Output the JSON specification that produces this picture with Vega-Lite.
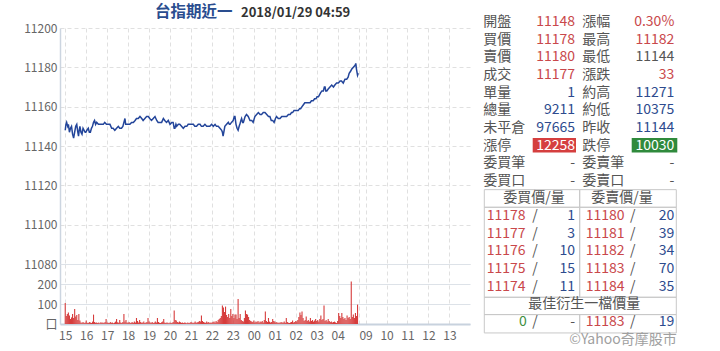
{
  "$schema": "https://vega.github.io/schema/vega-lite/v6.json",
  "background": "white",
  "padding": {"left": 20, "top": 4, "right": 0, "bottom": 0},
  "spacing": 10,
  "config": {"view": {"stroke": null}, "font": "Noto Sans CJK TC"},
  "datasets": {
    "price": [
      {"m":0,"p":11148},{"m":2,"p":11151},{"m":4,"p":11152},{"m":7,"p":11150},{"m":9,"p":11151},{"m":12,"p":11147},{"m":15,"p":11149},{"m":18,"p":11150},{"m":21,"p":11146},{"m":24,"p":11144},{"m":27,"p":11147},{"m":30,"p":11150},{"m":33,"p":11151},{"m":36,"p":11147},{"m":38,"p":11145},{"m":40,"p":11148},{"m":42,"p":11150},{"m":45,"p":11147},{"m":48,"p":11146},{"m":51,"p":11149},{"m":54,"p":11148},{"m":57,"p":11147},{"m":59,"p":11147},{"m":62,"p":11148},{"m":66,"p":11149},{"m":69,"p":11147},{"m":72,"p":11147},{"m":75,"p":11149},{"m":78,"p":11150},{"m":81,"p":11152},{"m":84,"p":11153},{"m":87,"p":11151},{"m":90,"p":11152},{"m":95,"p":11151},{"m":99,"p":11151},{"m":104,"p":11151},{"m":109,"p":11151},{"m":113,"p":11152},{"m":118,"p":11151},{"m":123,"p":11151},{"m":128,"p":11151},{"m":133,"p":11149},{"m":137,"p":11149},{"m":142,"p":11148},{"m":147,"p":11149},{"m":152,"p":11150},{"m":156,"p":11149},{"m":161,"p":11149},{"m":165,"p":11150},{"m":168,"p":11152},{"m":171,"p":11154},{"m":173,"p":11151},{"m":176,"p":11151},{"m":180,"p":11151},{"m":185,"p":11151},{"m":190,"p":11152},{"m":195,"p":11152},{"m":200,"p":11153},{"m":204,"p":11154},{"m":209,"p":11154},{"m":214,"p":11155},{"m":219,"p":11154},{"m":223,"p":11153},{"m":228,"p":11154},{"m":233,"p":11155},{"m":238,"p":11155},{"m":242,"p":11154},{"m":247,"p":11153},{"m":252,"p":11154},{"m":257,"p":11155},{"m":262,"p":11153},{"m":266,"p":11152},{"m":271,"p":11152},{"m":276,"p":11152},{"m":281,"p":11154},{"m":285,"p":11153},{"m":290,"p":11152},{"m":295,"p":11153},{"m":300,"p":11151},{"m":305,"p":11152},{"m":309,"p":11152},{"m":312,"p":11149},{"m":314,"p":11149},{"m":317,"p":11151},{"m":319,"p":11150},{"m":324,"p":11151},{"m":328,"p":11151},{"m":333,"p":11150},{"m":338,"p":11149},{"m":343,"p":11150},{"m":348,"p":11150},{"m":352,"p":11151},{"m":357,"p":11151},{"m":362,"p":11151},{"m":367,"p":11151},{"m":371,"p":11150},{"m":376,"p":11150},{"m":381,"p":11151},{"m":386,"p":11151},{"m":390,"p":11150},{"m":395,"p":11150},{"m":400,"p":11151},{"m":405,"p":11150},{"m":410,"p":11150},{"m":414,"p":11150},{"m":419,"p":11151},{"m":424,"p":11150},{"m":429,"p":11151},{"m":433,"p":11150},{"m":438,"p":11150},{"m":443,"p":11149},{"m":448,"p":11148},{"m":450,"p":11147},{"m":452,"p":11145},{"m":455,"p":11148},{"m":457,"p":11150},{"m":462,"p":11151},{"m":467,"p":11152},{"m":470,"p":11151},{"m":472,"p":11151},{"m":476,"p":11152},{"m":481,"p":11153},{"m":484,"p":11155},{"m":486,"p":11155},{"m":489,"p":11151},{"m":492,"p":11149},{"m":495,"p":11148},{"m":498,"p":11150},{"m":500,"p":11151},{"m":503,"p":11153},{"m":505,"p":11154},{"m":508,"p":11152},{"m":510,"p":11152},{"m":515,"p":11155},{"m":519,"p":11156},{"m":524,"p":11155},{"m":529,"p":11153},{"m":534,"p":11153},{"m":538,"p":11152},{"m":543,"p":11155},{"m":548,"p":11156},{"m":553,"p":11157},{"m":558,"p":11156},{"m":562,"p":11156},{"m":567,"p":11157},{"m":572,"p":11157},{"m":577,"p":11156},{"m":582,"p":11155},{"m":586,"p":11155},{"m":590,"p":11153},{"m":594,"p":11153},{"m":598,"p":11152},{"m":602,"p":11154},{"m":605,"p":11155},{"m":610,"p":11154},{"m":615,"p":11154},{"m":620,"p":11155},{"m":624,"p":11155},{"m":629,"p":11155},{"m":634,"p":11155},{"m":639,"p":11156},{"m":644,"p":11156},{"m":648,"p":11157},{"m":651,"p":11157},{"m":655,"p":11158},{"m":658,"p":11158},{"m":663,"p":11158},{"m":667,"p":11158},{"m":671,"p":11159},{"m":674,"p":11159},{"m":678,"p":11160},{"m":682,"p":11161},{"m":686,"p":11162},{"m":691,"p":11162},{"m":696,"p":11162},{"m":701,"p":11162},{"m":705,"p":11163},{"m":710,"p":11163},{"m":714,"p":11164},{"m":718,"p":11164},{"m":721,"p":11165},{"m":725,"p":11165},{"m":728,"p":11166},{"m":731,"p":11167},{"m":735,"p":11168},{"m":739,"p":11168},{"m":742,"p":11170},{"m":744,"p":11170},{"m":746,"p":11168},{"m":749,"p":11168},{"m":753,"p":11169},{"m":758,"p":11170},{"m":763,"p":11171},{"m":768,"p":11170},{"m":772,"p":11171},{"m":777,"p":11172},{"m":782,"p":11172},{"m":787,"p":11173},{"m":791,"p":11173},{"m":796,"p":11172},{"m":801,"p":11174},{"m":806,"p":11174},{"m":810,"p":11175},{"m":813,"p":11177},{"m":817,"p":11178},{"m":820,"p":11179},{"m":825,"p":11180},{"m":830,"p":11181},{"m":832,"p":11182},{"m":834,"p":11179},{"m":837,"p":11176},{"m":839,"p":11177}
    ],
    "vol": [
      {"m":0,"v":105},{"m":3,"v":40},{"m":6,"v":50},{"m":9,"v":58},{"m":12,"v":42},{"m":15,"v":25},{"m":18,"v":33},{"m":21,"v":50},{"m":24,"v":30},{"m":27,"v":75},{"m":30,"v":37},{"m":33,"v":45},{"m":36,"v":20},{"m":39,"v":50},{"m":42,"v":17},{"m":45,"v":8},{"m":48,"v":6},{"m":51,"v":10},{"m":54,"v":5},{"m":57,"v":8},{"m":60,"v":17},{"m":63,"v":6},{"m":66,"v":5},{"m":69,"v":10},{"m":72,"v":7},{"m":75,"v":5},{"m":78,"v":12},{"m":81,"v":47},{"m":84,"v":10},{"m":87,"v":6},{"m":90,"v":8},{"m":93,"v":5},{"m":96,"v":7},{"m":99,"v":4},{"m":102,"v":9},{"m":105,"v":6},{"m":108,"v":8},{"m":111,"v":5},{"m":114,"v":10},{"m":117,"v":25},{"m":120,"v":8},{"m":123,"v":6},{"m":126,"v":5},{"m":129,"v":10},{"m":132,"v":6},{"m":135,"v":8},{"m":138,"v":4},{"m":141,"v":7},{"m":144,"v":12},{"m":147,"v":25},{"m":150,"v":9},{"m":153,"v":6},{"m":156,"v":20},{"m":159,"v":8},{"m":162,"v":5},{"m":165,"v":10},{"m":168,"v":50},{"m":171,"v":12},{"m":174,"v":20},{"m":177,"v":8},{"m":180,"v":6},{"m":183,"v":10},{"m":186,"v":5},{"m":189,"v":7},{"m":192,"v":9},{"m":195,"v":6},{"m":198,"v":12},{"m":201,"v":8},{"m":204,"v":30},{"m":207,"v":15},{"m":210,"v":8},{"m":213,"v":20},{"m":216,"v":10},{"m":219,"v":6},{"m":222,"v":8},{"m":225,"v":12},{"m":228,"v":5},{"m":231,"v":7},{"m":234,"v":10},{"m":237,"v":30},{"m":240,"v":12},{"m":243,"v":8},{"m":246,"v":6},{"m":249,"v":10},{"m":252,"v":5},{"m":255,"v":8},{"m":258,"v":12},{"m":261,"v":7},{"m":264,"v":30},{"m":267,"v":10},{"m":270,"v":6},{"m":273,"v":5},{"m":276,"v":9},{"m":279,"v":12},{"m":282,"v":25},{"m":285,"v":8},{"m":288,"v":5},{"m":291,"v":7},{"m":294,"v":6},{"m":297,"v":4},{"m":300,"v":8},{"m":303,"v":5},{"m":306,"v":6},{"m":309,"v":10},{"m":312,"v":67},{"m":315,"v":20},{"m":318,"v":17},{"m":321,"v":10},{"m":324,"v":8},{"m":327,"v":12},{"m":330,"v":9},{"m":333,"v":6},{"m":336,"v":8},{"m":339,"v":5},{"m":342,"v":7},{"m":345,"v":6},{"m":348,"v":4},{"m":351,"v":8},{"m":354,"v":5},{"m":357,"v":6},{"m":360,"v":10},{"m":363,"v":7},{"m":366,"v":5},{"m":369,"v":8},{"m":372,"v":12},{"m":375,"v":6},{"m":378,"v":9},{"m":381,"v":10},{"m":384,"v":15},{"m":387,"v":12},{"m":390,"v":42},{"m":393,"v":15},{"m":396,"v":10},{"m":399,"v":8},{"m":402,"v":6},{"m":405,"v":12},{"m":408,"v":7},{"m":411,"v":10},{"m":414,"v":5},{"m":417,"v":8},{"m":420,"v":6},{"m":423,"v":10},{"m":426,"v":12},{"m":429,"v":8},{"m":432,"v":15},{"m":435,"v":10},{"m":438,"v":20},{"m":441,"v":25},{"m":444,"v":30},{"m":447,"v":40},{"m":450,"v":92},{"m":453,"v":83},{"m":456,"v":60},{"m":459,"v":87},{"m":462,"v":45},{"m":465,"v":35},{"m":468,"v":50},{"m":471,"v":30},{"m":474,"v":75},{"m":477,"v":40},{"m":480,"v":50},{"m":483,"v":30},{"m":486,"v":47},{"m":489,"v":47},{"m":492,"v":25},{"m":495,"v":125},{"m":498,"v":30},{"m":501,"v":50},{"m":504,"v":20},{"m":507,"v":15},{"m":510,"v":12},{"m":513,"v":30},{"m":516,"v":67},{"m":519,"v":50},{"m":522,"v":47},{"m":525,"v":35},{"m":528,"v":20},{"m":531,"v":15},{"m":534,"v":12},{"m":537,"v":10},{"m":540,"v":17},{"m":543,"v":8},{"m":546,"v":12},{"m":549,"v":10},{"m":552,"v":15},{"m":555,"v":8},{"m":558,"v":12},{"m":561,"v":10},{"m":564,"v":15},{"m":567,"v":8},{"m":570,"v":20},{"m":573,"v":62},{"m":576,"v":15},{"m":579,"v":10},{"m":582,"v":30},{"m":585,"v":12},{"m":588,"v":8},{"m":591,"v":10},{"m":594,"v":25},{"m":597,"v":15},{"m":600,"v":12},{"m":603,"v":8},{"m":606,"v":10},{"m":609,"v":5},{"m":612,"v":8},{"m":615,"v":6},{"m":618,"v":10},{"m":621,"v":7},{"m":624,"v":8},{"m":627,"v":12},{"m":630,"v":6},{"m":633,"v":30},{"m":636,"v":10},{"m":639,"v":6},{"m":642,"v":5},{"m":645,"v":8},{"m":648,"v":10},{"m":651,"v":17},{"m":654,"v":8},{"m":657,"v":10},{"m":660,"v":15},{"m":663,"v":12},{"m":666,"v":20},{"m":669,"v":35},{"m":672,"v":58},{"m":675,"v":45},{"m":678,"v":62},{"m":681,"v":30},{"m":684,"v":15},{"m":687,"v":20},{"m":690,"v":37},{"m":693,"v":15},{"m":696,"v":20},{"m":699,"v":12},{"m":702,"v":30},{"m":705,"v":15},{"m":708,"v":20},{"m":711,"v":12},{"m":714,"v":18},{"m":717,"v":25},{"m":720,"v":15},{"m":723,"v":20},{"m":726,"v":12},{"m":729,"v":25},{"m":732,"v":42},{"m":735,"v":20},{"m":738,"v":25},{"m":741,"v":92},{"m":744,"v":15},{"m":747,"v":20},{"m":750,"v":12},{"m":753,"v":25},{"m":756,"v":15},{"m":759,"v":10},{"m":762,"v":12},{"m":765,"v":8},{"m":768,"v":10},{"m":771,"v":12},{"m":774,"v":8},{"m":777,"v":5},{"m":780,"v":15},{"m":783,"v":55},{"m":786,"v":40},{"m":789,"v":30},{"m":792,"v":55},{"m":795,"v":35},{"m":798,"v":25},{"m":801,"v":30},{"m":804,"v":20},{"m":807,"v":42},{"m":810,"v":30},{"m":813,"v":35},{"m":816,"v":25},{"m":819,"v":212},{"m":822,"v":35},{"m":825,"v":47},{"m":828,"v":30},{"m":831,"v":55},{"m":834,"v":40},{"m":837,"v":97}
    ],
    "book": [
      {"r":0,"c":0,"t":"開盤","k":"label"},{"r":0,"c":7,"t":"11148","k":"up"},{"r":0,"c":10,"t":"漲幅","k":"label"},{"r":0,"c":16,"t":"0.30%","k":"up"},
      {"r":1,"c":0,"t":"買價","k":"label"},{"r":1,"c":7,"t":"11178","k":"up"},{"r":1,"c":10,"t":"最高","k":"label"},{"r":1,"c":16,"t":"11182","k":"up"},
      {"r":2,"c":0,"t":"賣價","k":"label"},{"r":2,"c":7,"t":"11180","k":"up"},{"r":2,"c":10,"t":"最低","k":"label"},{"r":2,"c":16,"t":"11144","k":"flat"},
      {"r":3,"c":0,"t":"成交","k":"label"},{"r":3,"c":7,"t":"11177","k":"up"},{"r":3,"c":10,"t":"漲跌","k":"label"},{"r":3,"c":16,"t":"33","k":"up"},
      {"r":4,"c":0,"t":"單量","k":"label"},{"r":4,"c":7,"t":"1","k":"vol"},{"r":4,"c":10,"t":"約高","k":"label"},{"r":4,"c":16,"t":"11271","k":"vol"},
      {"r":5,"c":0,"t":"總量","k":"label"},{"r":5,"c":7,"t":"9211","k":"vol"},{"r":5,"c":10,"t":"約低","k":"label"},{"r":5,"c":16,"t":"10375","k":"vol"},
      {"r":6,"c":0,"t":"未平倉","k":"label"},{"r":6,"c":7,"t":"97665","k":"vol"},{"r":6,"c":10,"t":"昨收","k":"label"},{"r":6,"c":16,"t":"11144","k":"vol"},
      {"r":7,"c":0,"t":"漲停","k":"label"},{"r":7,"c":7,"t":"12258","k":"box"},{"r":7,"c":10,"t":"跌停","k":"label"},{"r":7,"c":16,"t":"10030","k":"box"},
      {"r":8,"c":0,"t":"委買筆","k":"label"},{"r":8,"c":7,"t":"-","k":"label"},{"r":8,"c":10,"t":"委賣筆","k":"label"},{"r":8,"c":16,"t":"-","k":"label"},
      {"r":9,"c":0,"t":"委買口","k":"label"},{"r":9,"c":7,"t":"-","k":"label"},{"r":9,"c":10,"t":"委賣口","k":"label"},{"r":9,"c":16,"t":"-","k":"label"},
      {"r":10,"c":5,"t":"委買價/量","k":"label"},{"r":10,"c":13,"t":"委賣價/量","k":"label"},
      {"r":11,"c":2,"t":"11178","k":"up"},{"r":11,"c":6,"t":"/","k":"label"},{"r":11,"c":7,"t":"1","k":"vol"},{"r":11,"c":12,"t":"11180","k":"up"},{"r":11,"c":15,"t":"/","k":"label"},{"r":11,"c":16,"t":"20","k":"vol"},
      {"r":12,"c":2,"t":"11177","k":"up"},{"r":12,"c":6,"t":"/","k":"label"},{"r":12,"c":7,"t":"3","k":"vol"},{"r":12,"c":12,"t":"11181","k":"up"},{"r":12,"c":15,"t":"/","k":"label"},{"r":12,"c":16,"t":"39","k":"vol"},
      {"r":13,"c":2,"t":"11176","k":"up"},{"r":13,"c":6,"t":"/","k":"label"},{"r":13,"c":7,"t":"10","k":"vol"},{"r":13,"c":12,"t":"11182","k":"up"},{"r":13,"c":15,"t":"/","k":"label"},{"r":13,"c":16,"t":"34","k":"vol"},
      {"r":14,"c":2,"t":"11175","k":"up"},{"r":14,"c":6,"t":"/","k":"label"},{"r":14,"c":7,"t":"15","k":"vol"},{"r":14,"c":12,"t":"11183","k":"up"},{"r":14,"c":15,"t":"/","k":"label"},{"r":14,"c":16,"t":"70","k":"vol"},
      {"r":15,"c":2,"t":"11174","k":"up"},{"r":15,"c":6,"t":"/","k":"label"},{"r":15,"c":7,"t":"11","k":"vol"},{"r":15,"c":12,"t":"11184","k":"up"},{"r":15,"c":15,"t":"/","k":"label"},{"r":15,"c":16,"t":"35","k":"vol"},
      {"r":16,"c":11,"t":"最佳衍生一檔價量","k":"label"},
      {"r":17,"c":3,"t":"0","k":"down"},{"r":17,"c":6,"t":"/","k":"label"},{"r":17,"c":7,"t":"-","k":"label"},{"r":17,"c":12,"t":"11183","k":"up"},{"r":17,"c":15,"t":"/","k":"label"},{"r":17,"c":16,"t":"19","k":"vol"},
      {"r":18,"c":18,"t":"©Yahoo奇摩股市","k":"note"}
    ],
    "cells": [
      {"c1":1,"c2":9,"r1":9.5,"r2":10.5},{"c1":9,"c2":17,"r1":9.5,"r2":10.5},
      {"c1":1,"c2":9,"r1":10.5,"r2":15.6},{"c1":9,"c2":17,"r1":10.5,"r2":15.6},
      {"c1":1,"c2":17,"r1":15.6,"r2":16.58},
      {"c1":1,"c2":9,"r1":16.58,"r2":17.62},{"c1":9,"c2":17,"r1":16.58,"r2":17.62}
    ],
    "boxes": [
      {"c1":4,"c2":8,"r1":6.57,"r2":7.4,"k":"up"},
      {"c1":14,"c2":19,"r1":6.57,"r2":7.4,"k":"down"}
    ]
  },
  "hconcat": [
    {
      "title": {"text": "台指期近一", "anchor": "start", "frame": "group", "dx": 95, "offset": -13, "fontSize": 15.5, "fontWeight": "bold", "color": "#2a4d8f"},
      "spacing": 0,
      "bounds": "flush",
      "vconcat": [
        {
          "width": 410,
          "height": 236,
          "title": {"text": "2018/01/29 04:59", "anchor": "start", "frame": "group", "dx": 181, "offset": 2, "fontSize": 13, "fontWeight": "bold", "color": "#333333"},
          "layer": [
            {
              "data": {"values": [{"label": "昨收", "p": 11144}]},
              "mark": {"type": "rule", "color": "#a8a8a8", "strokeWidth": 1.5},
              "encoding": {
                "x": {"datum": 0, "type": "quantitative"},
                "x2": {"datum": 1145},
                "y": {"field": "p", "type": "quantitative"}
              }
            },
            {
              "data": {"name": "price"},
              "mark": {"type": "line", "color": "#23459a", "strokeWidth": 1.5},
              "encoding": {
                "x": {"field": "m", "type": "quantitative"},
                "y": {"field": "p", "type": "quantitative"}
              }
            }
          ],
          "encoding": {
            "x": {"field": "m", "type": "quantitative",
              "scale": {"domain": [-15, 1159], "nice": false, "zero": false},
              "axis": {"values": [0,60,120,180,240,300,360,420,480,540,600,660,720,780,840,860,920,980,1040,1100], "labels": false, "ticks": false, "domain": false, "grid": true, "gridDash": [4, 3], "gridColor": "#e0e0e0", "title": null}},
            "y": {"field": "p", "type": "quantitative",
              "scale": {"domain": [11080, 11200], "nice": false, "zero": false},
              "axis": {"values": [11080,11100,11120,11140,11160,11180,11200], "format": "d", "title": null, "ticks": false, "domain": true, "domainColor": "#ccd5e0", "domainWidth": 1.5, "grid": true, "gridDash": [4, 3], "gridColor": "#e0e0e0", "labelColor": "#666666", "labelFontSize": 12, "labelPadding": 3, "labelFlush": false, "labelOverlap": false, "minExtent": 40, "maxExtent": 40}}
          }
        },
        {
          "width": 410,
          "height": 60,
          "data": {"name": "vol"},
          "mark": {"type": "rule", "color": "#d63c3c", "strokeWidth": 1.1},
          "encoding": {
            "x": {"field": "m", "type": "quantitative",
              "scale": {"domain": [-15, 1159], "nice": false, "zero": false},
              "axis": {"values": [0,60,120,180,240,300,360,420,480,540,600,660,720,780,840,860,920,980,1040,1100],
                "labelExpr": "datum.value == 840 ? '' : datum.value < 840 ? (((15 + datum.value / 60) % 24) < 10 ? '0' : '') + ((15 + datum.value / 60) % 24) : ((9 + (datum.value - 860) / 60) < 10 ? '0' : '') + (9 + (datum.value - 860) / 60)",
                "ticks": false, "domain": true, "domainColor": "#c8d2de", "domainWidth": 2, "grid": true, "gridDash": [4, 3], "gridColor": "#e0e0e0", "labelColor": "#666666", "labelFontSize": 12, "labelPadding": 6, "labelFlush": false, "labelOverlap": false, "title": null}},
            "y": {"field": "v", "type": "quantitative",
              "scale": {"domain": [0, 300], "nice": false},
              "axis": {"values": [0, 100, 200, 300], "labelExpr": "datum.value == 0 ? '口' : datum.value == 300 ? '' : datum.label", "title": null, "ticks": false, "domain": true, "domainColor": "#ccd5e0", "domainWidth": 1.5, "grid": true, "gridColor": "#dde2e8", "labelColor": "#666666", "labelFontSize": 12, "labelPadding": 3, "labelFlush": false, "labelOverlap": false, "minExtent": 40, "maxExtent": 40}},
            "y2": {"datum": 0}
          }
        }
      ]
    },
    {
      "width": 200,
      "height": 300,
      "layer": [
        {
          "data": {"name": "boxes"},
          "mark": {"type": "rect"},
          "encoding": {
            "x": {"field": "c1", "type": "quantitative"},
            "x2": {"field": "c2"},
            "y": {"field": "r1", "type": "quantitative"},
            "y2": {"field": "r2"},
            "fill": {"field": "k", "type": "nominal", "scale": {"domain": ["up", "down"], "range": ["#d53f3f", "#2f8a3c"]}, "legend": null}
          }
        },
        {
          "data": {"name": "cells"},
          "mark": {"type": "rect", "filled": false, "stroke": "#c8c8c8", "strokeWidth": 1},
          "encoding": {
            "x": {"field": "c1", "type": "quantitative"},
            "x2": {"field": "c2"},
            "y": {"field": "r1", "type": "quantitative"},
            "y2": {"field": "r2"}
          }
        },
        {
          "data": {"name": "book"},
          "transform": [{"filter": {"field": "c", "oneOf": [0, 2, 10, 12]}}],
          "mark": {"type": "text", "align": "left", "baseline": "middle", "fontSize": 14},
          "encoding": {
            "x": {"field": "c", "type": "quantitative"},
            "y": {"field": "r", "type": "quantitative"},
            "text": {"field": "t"},
            "color": {"field": "k", "type": "nominal", "legend": null}
          }
        },
        {
          "data": {"name": "book"},
          "transform": [{"filter": {"field": "c", "oneOf": [3, 7, 16, 18]}}],
          "mark": {"type": "text", "align": "right", "baseline": "middle", "fontSize": 14},
          "encoding": {
            "x": {"field": "c", "type": "quantitative"},
            "y": {"field": "r", "type": "quantitative"},
            "text": {"field": "t"},
            "color": {"field": "k", "type": "nominal", "legend": null}
          }
        },
        {
          "data": {"name": "book"},
          "transform": [{"filter": {"field": "c", "oneOf": [5, 6, 11, 13, 15]}}],
          "mark": {"type": "text", "align": "center", "baseline": "middle", "fontSize": 14},
          "encoding": {
            "x": {"field": "c", "type": "quantitative"},
            "y": {"field": "r", "type": "quantitative"},
            "text": {"field": "t"},
            "color": {"field": "k", "type": "nominal", "legend": null}
          }
        }
      ],
      "encoding": {
        "x": {"type": "quantitative", "axis": null,
          "scale": {"domain": [0,1,2,3,4,5,6,7,8,9,10,11,12,13,14,15,16,17,18,19], "range": [3.3,4.3,6.7,46.7,52.7,54,55,95,96,99.7,102.3,104.2,105.7,142,151.7,152.7,194.3,196.3,196.7,197.3], "nice": false, "zero": false}},
        "y": {"type": "quantitative", "axis": null,
          "scale": {"domain": [0.34, 17.34], "reverse": true, "nice": false, "zero": false}},
        "color": {"type": "nominal", "legend": null,
          "scale": {"domain": ["label", "up", "vol", "flat", "box", "down", "note"], "range": ["#555555", "#c9484b", "#2d4b8e", "#555555", "#ffffff", "#3f8f3f", "#a0a0a0"]}}
      }
    }
  ]
}
